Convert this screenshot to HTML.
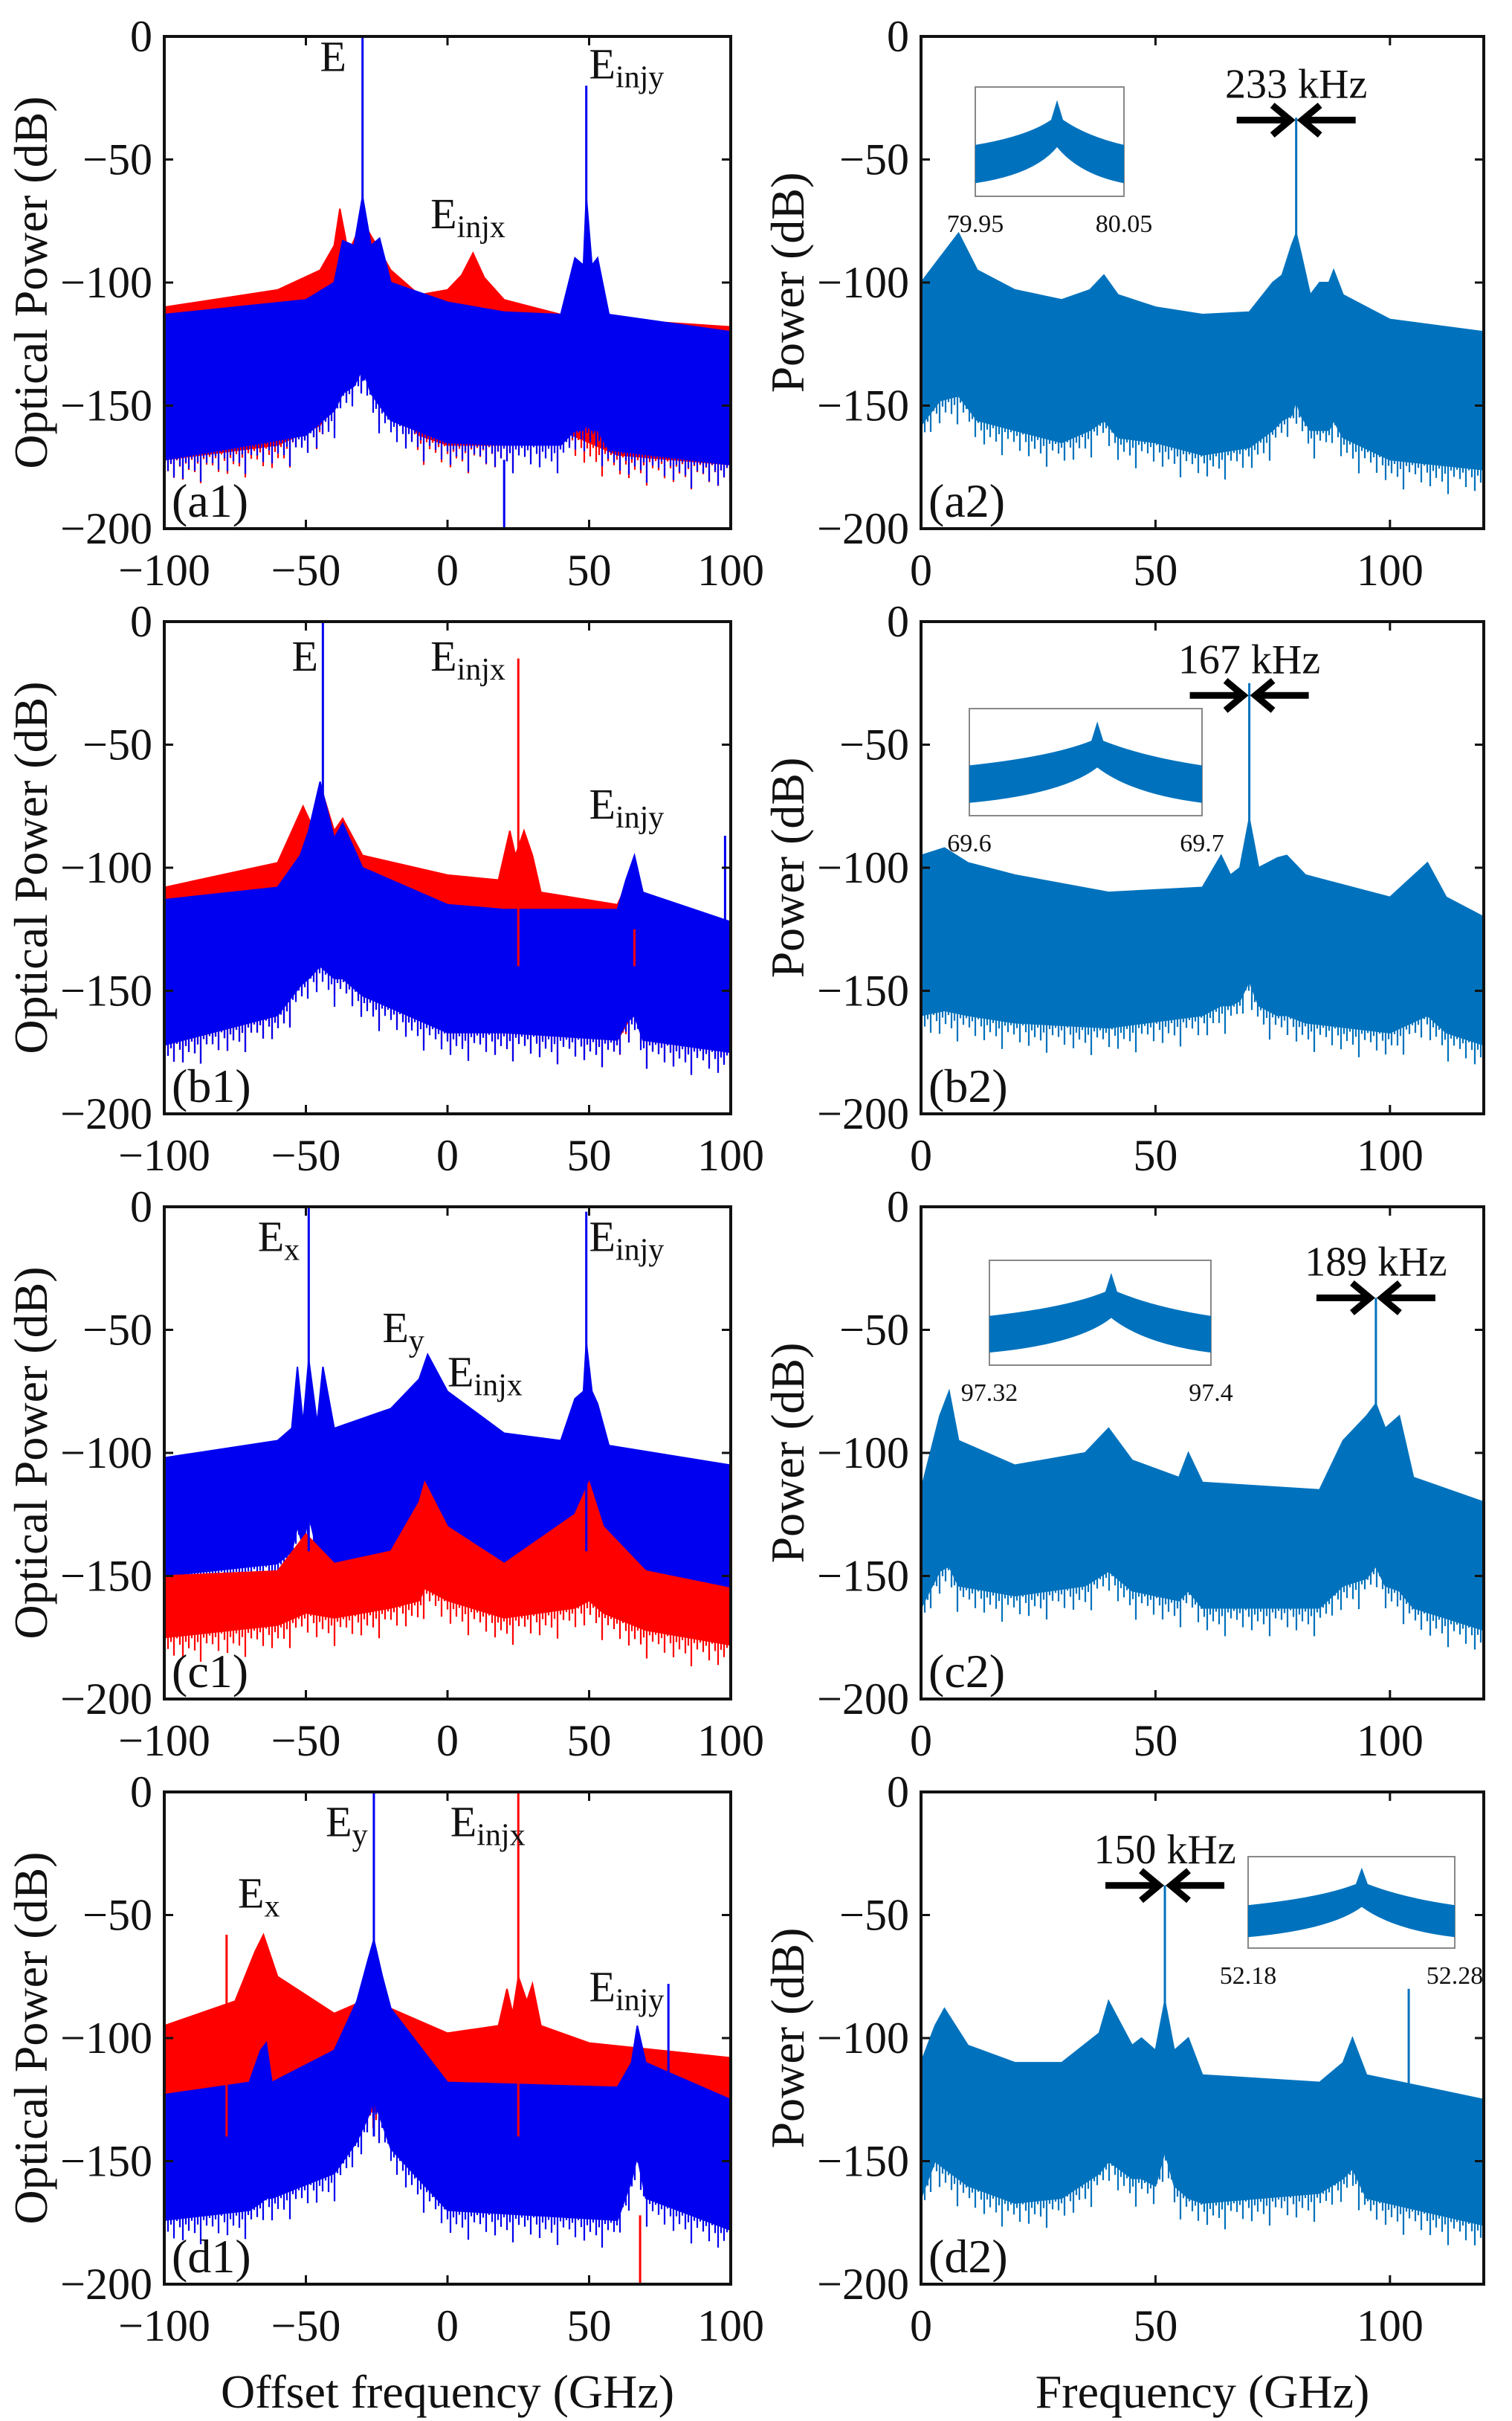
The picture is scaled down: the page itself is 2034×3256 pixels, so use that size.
<!DOCTYPE html>
<html><head><meta charset="utf-8"><style>
html,body{margin:0;padding:0;background:#fff}
svg{display:block}
text{font-family:"Liberation Serif","DejaVu Serif",serif;fill:#111}
</style></head><body>
<svg id="fig" width="2034" height="3256" viewBox="0 0 2034 3256" xmlns="http://www.w3.org/2000/svg"></svg>
<script>
// ---- data (x in GHz, power in dB) ----
const a1RedX=[-100,-60,-45,-40,-38,-35,-30,-25,-20,-10,0,5,9,13,20,40,60,100];
const a1RedUp=[-110,-103,-95,-85,-70,-88,-75,-85,-95,-105,-103,-97,-88,-98,-107,-113,-115,-118];
const a1RedLo=[-172,-166,-158,-148,-145,-140,-135,-145,-150,-162,-166,-166,-166,-166,-166,-160,-170,-174];
const a1BlueX=[-100,-50,-40,-37,-33,-30,-27,-24,-20,0,20,40,45,48,49,51,53,57,100];
const a1BlueUp=[-113,-107,-100,-83,-85,-65,-85,-82,-100,-108,-112,-113,-90,-93,-65,-93,-90,-113,-120];
const a1BlueLo=[-172,-162,-152,-145,-142,-135,-145,-150,-156,-165,-166,-166,-160,-160,-158,-160,-160,-168,-174];
const a1SpikeX=[-30,49,-30,20];const a1SpikeTop=[0,-20,-115,-200];const a1SpikeC=['b','b','b','b'];

const b1RedX=[-100,-60,-51,-47,-44,-40,-37,-30,0,18,22,24,27,30,33,60,66,70,100];
const b1RedUp=[-108,-98,-75,-85,-70,-85,-80,-95,-103,-105,-85,-95,-85,-95,-110,-115,-100,-115,-122];
const b1RedLo=[-172,-160,-145,-140,-135,-140,-145,-150,-165,-167,-167,-167,-167,-167,-167,-170,-158,-170,-174];
const b1BlueX=[-100,-60,-52,-49,-45,-40,-37,-30,0,20,60,63,66,69,100];
const b1BlueUp=[-113,-108,-95,-85,-65,-88,-82,-100,-115,-117,-117,-105,-95,-110,-122];
const b1BlueLo=[-172,-160,-148,-145,-140,-145,-145,-152,-167,-167,-170,-163,-160,-170,-175];
const b1SpikeX=[-44,25,98,66];const b1SpikeTop=[0,-15,-87,-125];const b1SpikeC=['b','r','b','r'];

const c1BlueX=[-100,-60,-55,-53,-51,-49,-46,-44,-40,-20,-10,-7,0,20,40,45,48,49,51,53,57,100];
const c1BlueUp=[-102,-95,-90,-65,-88,-62,-88,-65,-90,-82,-70,-60,-75,-92,-95,-78,-75,-55,-75,-80,-97,-105];
const c1BlueLo=[-150,-145,-140,-130,-138,-125,-140,-140,-145,-145,-150,-150,-150,-148,-145,-138,-135,-135,-140,-145,-150,-155];
const c1RedX=[-100,-60,-50,-40,-20,-10,-8,0,20,45,50,55,70,100];
const c1RedUp=[-150,-148,-133,-145,-140,-120,-112,-130,-145,-125,-112,-130,-148,-155];
const c1RedLo=[-175,-170,-165,-167,-163,-160,-155,-160,-167,-163,-160,-165,-172,-178];
const c1SpikeX=[-49,49];const c1SpikeTop=[0,-2];const c1SpikeC=['b','b'];

const d1RedX=[-100,-75,-68,-65,-60,-40,-30,-27,-25,-20,0,18,21,23,25,28,30,33,50,100];
const d1RedUp=[-95,-85,-65,-58,-75,-90,-85,-65,-75,-88,-98,-95,-80,-90,-75,-85,-78,-95,-102,-108];
const d1RedLo=[-140,-135,-130,-130,-130,-130,-130,-130,-130,-130,-135,-135,-135,-135,-135,-135,-135,-135,-138,-140];
const d1BlueX=[-100,-70,-66,-64,-62,-40,-32,-28,-26,-23,-20,0,60,65,67,70,100];
const d1BlueUp=[-123,-118,-105,-102,-118,-105,-85,-68,-60,-75,-88,-118,-120,-110,-95,-110,-125];
const d1BlueLo=[-174,-170,-167,-165,-165,-155,-142,-132,-125,-135,-145,-170,-174,-158,-148,-165,-178];
const d1SpikeX=[-78,-26,25,78,68];const d1SpikeTop=[-58,0,0,-78,-200];const d1SpikeC=['r','b','r','b','r'];

const a2X=[0,4,8,12,20,30,36,39,42,50,60,70,75,77,79,80,81,83,85,87,88,90,100,120];
const a2Up=[-100,-90,-80,-95,-103,-107,-103,-97,-105,-110,-113,-112,-100,-97,-85,-80,-88,-105,-100,-100,-95,-105,-115,-120];
const a2Lo=[-158,-148,-146,-156,-160,-165,-160,-156,-163,-165,-170,-167,-160,-156,-154,-148,-154,-160,-160,-160,-156,-163,-172,-176];
const a2SpikeX=[80];const a2SpikeTop=[-33];

const b2X=[0,5,10,20,40,60,64,66,68,70,72,76,78,82,100,108,112,120];
const b2Up=[-95,-92,-98,-103,-110,-108,-95,-103,-100,-80,-100,-96,-95,-103,-112,-98,-112,-120];
const b2Lo=[-160,-158,-160,-163,-165,-160,-156,-156,-154,-146,-156,-160,-160,-163,-167,-160,-167,-172];
const b2SpikeX=[70];const b2SpikeTop=[-25];

const c2X=[0,4,6,8,20,35,40,45,55,57,60,85,90,95,97,99,102,105,120];
const c2Up=[-115,-85,-75,-95,-105,-100,-90,-103,-110,-100,-112,-115,-95,-85,-80,-90,-85,-110,-120];
const c2Lo=[-163,-148,-146,-154,-158,-154,-148,-156,-160,-156,-163,-163,-154,-151,-146,-154,-156,-163,-172];
const c2SpikeX=[97];const c2SpikeTop=[-37];

const d2X=[0,3,5,10,20,30,38,40,45,47,50,52,54,57,60,85,90,92,95,120];
const d2Up=[-110,-95,-88,-103,-110,-110,-98,-85,-103,-100,-105,-85,-105,-100,-115,-118,-110,-100,-115,-125];
const d2Lo=[-165,-150,-153,-160,-167,-165,-155,-150,-157,-157,-160,-146,-160,-165,-167,-163,-157,-153,-165,-176];
const d2SpikeX=[52,104];const d2SpikeTop=[-38,-80];

const leftXTicks=[-100,-50,0,50,100];
const rightXTicks=[0,50,100];
const yTicks=[0,-50,-100,-150,-200];
const leftYTickLabels=['0','\u221250','\u2212100','\u2212150','\u2212200'];

// ---- layout ----
const NS='http://www.w3.org/2000/svg';
const svg=document.getElementById('fig');
const ROW_TOP=[49,836,1623,2410], PH=662;
const LX=221,LW=762, RX=1239,RW=757;
const RED='#ff0000',BLUE='#0000f0',MB='#0072bd';
const FRINGE=[4,16,7,26,3,12,30,9,18,5,22,11,38,6,14];
function el(tag,attrs,parent){const e=document.createElementNS(NS,tag);for(const k in attrs)e.setAttribute(k,attrs[k]);(parent||svg).appendChild(e);return e;}
function mkAxes(x0,y0,w,h,xmin,xmax){
  return {sx:v=>x0+(v-xmin)/(xmax-xmin)*w, sy:v=>y0+(-v)/200*h, x0,y0,w,h,xmin,xmax};
}
function interp(xs,ys,x){
  if(x<=xs[0])return ys[0];
  for(let i=1;i<xs.length;i++)if(x<=xs[i]){const t=(x-xs[i-1])/(xs[i]-xs[i-1]);return ys[i-1]+t*(ys[i]-ys[i-1]);}
  return ys[ys.length-1];
}
function band(g,ax,xs,up,lo,color,name){
  let d='M'+xs.map((x,i)=>ax.sx(x).toFixed(1)+','+ax.sy(up[i]).toFixed(1)).join('L');
  for(let i=xs.length-1;i>=0;i--)d+='L'+ax.sx(xs[i]).toFixed(1)+','+ax.sy(lo[i]).toFixed(1);
  const p=el('path',{d:d+'Z',fill:color,stroke:color,'stroke-width':2},g);
  
  
  // noisy lower fringe
  let fd='';
  let k=0;
  for(let px=ax.x0+1;px<ax.x0+ax.w;px+=4,k++){
    const v=ax.xmin+(px-ax.x0)/ax.w*(ax.xmax-ax.xmin);
    const y=ax.sy(interp(xs,lo,v));
    fd+=`M${px},${(y-2).toFixed(1)}V${(y+FRINGE[k%FRINGE.length]).toFixed(1)}`;
  }
  const f=el('path',{d:fd,stroke:color,'stroke-width':2.2,fill:'none'},g);
  
  
}
function spikes(g,ax,xs,tops,cols,name){
  xs.forEach((x,i)=>{
    const c=cols[i]==='r'?RED:(cols[i]==='b'?BLUE:MB);
    const t=tops[i];
    const y1=ax.sy(t), y2=t<-150?ax.sy(-172):ax.sy(-140);
    const l=el('line',{x1:ax.sx(x),x2:ax.sx(x),y1:y1,y2:y2,stroke:c,'stroke-width':3},g);
    
    
  });
}
function frame(ax,xticks,name,label,ylabel,showXTitle,xTitle){
  const g=el('g',{});
  
  
  el('rect',{x:ax.x0,y:ax.y0,width:ax.w,height:ax.h,fill:'none',stroke:'#111','stroke-width':4},g);
  xticks.forEach(t=>{const x=ax.sx(t);
    el('line',{x1:x,x2:x,y1:ax.y0+ax.h,y2:ax.y0+ax.h-12,stroke:'#111','stroke-width':3},g);
    el('line',{x1:x,x2:x,y1:ax.y0,y2:ax.y0+12,stroke:'#111','stroke-width':3},g);
    const tx=el('text',{x:x,y:ax.y0+ax.h+76,'font-size':60,'text-anchor':'middle'},g);
    tx.textContent=t<0?'\u2212'+(-t):String(t);
    
    
  });
  yTicks.forEach((t,i)=>{const y=ax.sy(t);
    el('line',{x1:ax.x0,x2:ax.x0+12,y1:y,y2:y,stroke:'#111','stroke-width':3},g);
    el('line',{x1:ax.x0+ax.w,x2:ax.x0+ax.w-12,y1:y,y2:y,stroke:'#111','stroke-width':3},g);
    const tx=el('text',{x:ax.x0-16,y:y+20,'font-size':60,'text-anchor':'end'},g);
    tx.textContent=leftYTickLabels[i];
    
    
  });
  const yl=el('text',{x:0,y:0,'font-size':64,'text-anchor':'middle',transform:`translate(${ax.x0-158},${ax.y0+ax.h/2}) rotate(-90)`},g);
  yl.textContent=ylabel;
  
  
  const pl=el('text',{x:ax.x0+10,y:ax.y0+ax.h-16,'font-size':64},g);
  pl.textContent=label;
  
  
  if(showXTitle){
    const xt=el('text',{x:ax.x0+ax.w/2,y:3238,'font-size':64,'text-anchor':'middle'},g);
    xt.textContent=xTitle;
    
    
  }
}
function clipG(ax,name){
  const id='c'+name;
  const cp=el('clipPath',{id});el('rect',{x:ax.x0,y:ax.y0,width:ax.w,height:ax.h},cp);
  const g=el('g',{'clip-path':`url(#${id})`});
  
  
  return g;
}
function annot(ax,x,y,main,sub,name){
  const t=el('text',{x:ax.sx(x),y:ax.sy(y),'font-size':58});
  
  
  t.appendChild(document.createTextNode(main));
  if(sub){const s=el('tspan',{'font-size':42,dy:12},t);s.textContent=sub;}
}
function inset(x0,y0,w,h,l1,l2,name){
  const g=el('g',{});
  
  
  el('rect',{x:x0,y:y0,width:w,height:h,fill:'#fff',stroke:'#888','stroke-width':2},g);
  const mid=x0+w*0.55, base=y0+h*0.53;
  const d=`M${x0},${base} Q${x0+w*0.35},${base-h*0.08} ${mid-8},${y0+h*0.3} L${mid},${y0+h*0.12} L${mid+8},${y0+h*0.3} Q${x0+w*0.75},${base-h*0.08} ${x0+w},${base} L${x0+w},${y0+h*0.88} Q${x0+w*0.7},${y0+h*0.8} ${mid},${y0+h*0.55} Q${x0+w*0.4},${y0+h*0.8} ${x0},${y0+h*0.88}Z`;
  el('path',{d,fill:MB},g);
  const a=el('text',{x:x0,y:y0+h+48,'font-size':34,'text-anchor':'middle'},g);a.textContent=l1;
  const b=el('text',{x:x0+w,y:y0+h+48,'font-size':34,'text-anchor':'middle'},g);b.textContent=l2;
}
function arrows(ax,x,y,text,name){
  const g=el('g',{});
  
  
  const px=ax.sx(x),py=ax.sy(y);
  el('line',{x1:px-80,x2:px-8,y1:py,y2:py,stroke:'#000','stroke-width':9},g);
  el('polyline',{points:`${px-32},${py-20} ${px-8},${py} ${px-32},${py+20}`,fill:'none',stroke:'#000','stroke-width':9},g);
  el('line',{x1:px+80,x2:px+8,y1:py,y2:py,stroke:'#000','stroke-width':9},g);
  el('polyline',{points:`${px+32},${py-20} ${px+8},${py} ${px+32},${py+20}`,fill:'none',stroke:'#000','stroke-width':9},g);
  const t=el('text',{x:px,y:py-30,'font-size':56,'text-anchor':'middle'},g);t.textContent=text;
}
function leftPanel(r,name,label,layers,sx,st,sc,ann){
  const ax=mkAxes(LX,ROW_TOP[r],LW,PH,-100,100);
  const g=clipG(ax,name);
  layers.forEach(L=>band(g,ax,L[0],L[1],L[2],L[3],L[4]));
  spikes(g,ax,sx,st,sc,name+'-spike');
  frame(ax,leftXTicks,name,label,'Optical Power (dB)',r===3,'Offset frequency (GHz)');
  ann.forEach(a=>annot(ax,a[0],a[1],a[2],a[3],a[4]));
}
function rightPanel(r,name,label,xs,up,lo,sx,st,ins,arr){
  const ax=mkAxes(RX,ROW_TOP[r],RW,PH,0,120);
  const g=clipG(ax,name);
  band(g,ax,xs,up,lo,MB,name+'-spectrum');
  spikes(g,ax,sx,st,sx.map(()=>'m'),name+'-spike');
  frame(ax,rightXTicks,name,label,'Power (dB)',r===3,'Frequency (GHz)');
  inset(...ins,name+'-inset');
  arrows(ax,arr[0],arr[1],arr[2],name+'-linewidth-annotation');
}
leftPanel(0,'a1','(a1)',[[a1RedX,a1RedUp,a1RedLo,RED,'a1-red-spectrum'],[a1BlueX,a1BlueUp,a1BlueLo,BLUE,'a1-blue-spectrum']],a1SpikeX,a1SpikeTop,a1SpikeC,
  [[-45,-14,'E','', 'label-E'],[-6,-78,'E','injx','label-Einjx'],[50,-17,'E','injy','label-Einjy']]);
leftPanel(1,'b1','(b1)',[[b1RedX,b1RedUp,b1RedLo,RED,'b1-red-spectrum'],[b1BlueX,b1BlueUp,b1BlueLo,BLUE,'b1-blue-spectrum']],b1SpikeX,b1SpikeTop,b1SpikeC,
  [[-55,-20,'E','','label-E'],[-6,-20,'E','injx','label-Einjx'],[50,-80,'E','injy','label-Einjy']]);
leftPanel(2,'c1','(c1)',[[c1BlueX,c1BlueUp,c1BlueLo,BLUE,'c1-blue-spectrum'],[c1RedX,c1RedUp,c1RedLo,RED,'c1-red-spectrum']],c1SpikeX,c1SpikeTop,c1SpikeC,
  [[-67,-18,'E','x','label-Ex'],[-23,-55,'E','y','label-Ey'],[0,-73,'E','injx','label-Einjx'],[50,-18,'E','injy','label-Einjy']]);
leftPanel(3,'d1','(d1)',[[d1RedX,d1RedUp,d1RedLo,RED,'d1-red-spectrum'],[d1BlueX,d1BlueUp,d1BlueLo,BLUE,'d1-blue-spectrum']],d1SpikeX,d1SpikeTop,d1SpikeC,
  [[-74,-47,'E','x','label-Ex'],[-43,-18,'E','y','label-Ey'],[1,-18,'E','injx','label-Einjx'],[50,-85,'E','injy','label-Einjy']]);
rightPanel(0,'a2','(a2)',a2X,a2Up,a2Lo,a2SpikeX,a2SpikeTop,[1312,117,200,147,'79.95','80.05'],[80,-34,'233 kHz']);
rightPanel(1,'b2','(b2)',b2X,b2Up,b2Lo,b2SpikeX,b2SpikeTop,[1304,953,313,144,'69.6','69.7'],[70,-30,'167 kHz']);
rightPanel(2,'c2','(c2)',c2X,c2Up,c2Lo,c2SpikeX,c2SpikeTop,[1331,1695,298,141,'97.32','97.4'],[97,-37,'189 kHz']);
rightPanel(3,'d2','(d2)',d2X,d2Up,d2Lo,d2SpikeX,d2SpikeTop,[1679,2497,278,123,'52.18','52.28'],[52,-38,'150 kHz']);
</script>
</body></html>
